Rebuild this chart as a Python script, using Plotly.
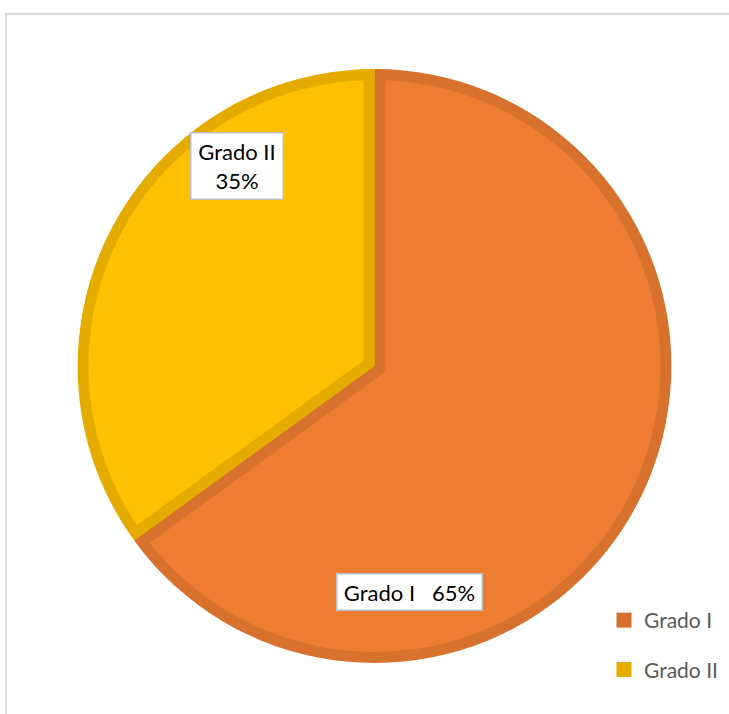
import math
import plotly.graph_objects as go

# Data
categories = ["Grado I", "Grado II"]
shares = [65, 35]

# Styling
fill_colors = ["#ED7D31", "#FFC000"]
edge_colors = ["#D8712D", "#E5AC00"]
legend_colors = ["#D6702C", "#E5AC00"]

W, H = 729, 714
CX, CY = 374.5, 366.0     # pie centre (px from top-left)
R = 297.0                 # outer radius (px)
EDGE = 11.0               # inner border thickness (px)
FONT = "Lato"


def dom(size):
    """Square domain of `size` px centred on the pie centre."""
    return dict(
        x=[(CX - size / 2) / W, (CX + size / 2) / W],
        y=[(H - CY - size / 2) / H, (H - CY + size / 2) / H],
    )


common = dict(
    labels=categories,
    values=shares,
    sort=False,
    direction="clockwise",
    rotation=0,
    textinfo="none",
    hoverinfo="skip",
    showlegend=False,
)

# shift each slice along its bisector so that its radial edges move
# EDGE/2 inward; a stroke of width EDGE then hugs the inside of the slice
total = sum(shares)
shifts = [(EDGE / 2) / math.sin(math.pi * v / total) for v in shares]
pulls = [s / R for s in shifts]
pull_size = R * (2 + 2 * max(pulls))

R_MASK = 330.0

fig = go.Figure()

# darker base disc (forms the outer border band)
fig.add_trace(go.Pie(**common, marker=dict(colors=edge_colors), domain=dom(2 * R)))
# lighter slice interiors
fig.add_trace(go.Pie(**common, marker=dict(colors=fill_colors), domain=dom(2 * (R - EDGE))))
# inner borders along the radial edges
fig.add_trace(go.Pie(
    **common,
    pull=pulls,
    marker=dict(colors=["rgba(0,0,0,0)"] * len(shares),
                line=dict(color=edge_colors, width=EDGE)),
    domain=dom(pull_size),
))
# white ring that trims anything drawn beyond the pie rim
fig.add_trace(go.Pie(
    labels=[" "], values=[1], sort=False, textinfo="none", hoverinfo="skip",
    showlegend=False, hole=R / R_MASK,
    marker=dict(colors=["#FFFFFF"], line=dict(width=0)),
    domain=dom(2 * R_MASK),
))

# legend entries
for i, (cat, col) in enumerate(zip(categories, legend_colors)):
    fig.add_trace(go.Scatter(
        x=[None], y=[None], mode="markers", name=cat,
        marker=dict(symbol="square", size=15, color=col, line=dict(width=0)),
        legendgroup=f"g{i}", hoverinfo="skip",
    ))

label_font = dict(family=FONT, size=22, color="#000000")
fig.add_annotation(
    x=236.5 / W, y=(H - 166.5) / H, xref="paper", yref="paper",
    xanchor="center", yanchor="middle",
    text=f"{categories[1]}<br>{shares[1]}%",
    showarrow=False, font=label_font, align="center",
    width=91, height=65, bgcolor="#FFFFFF",
    bordercolor="#BFBFBF", borderwidth=1.5, borderpad=0,
)
fig.add_annotation(
    x=409 / W, y=(H - 591.5) / H, xref="paper", yref="paper",
    xanchor="center", yanchor="middle",
    text=f"{categories[0]}\u00a0\u00a0\u00a0{shares[0]}%",
    showarrow=False, font=label_font, align="center",
    width=144, height=35, bgcolor="#FFFFFF",
    bordercolor="#BFBFBF", borderwidth=1.5, borderpad=0,
)

# chart-area frame
fig.add_shape(
    type="rect", xref="paper", yref="paper",
    x0=6 / W, x1=1.05, y0=-0.05, y1=(H - 14) / H,
    line=dict(color="#D9D9D9", width=2), fillcolor="rgba(0,0,0,0)",
)

fig.update_layout(
    width=W, height=H,
    margin=dict(l=0, r=0, t=0, b=0, autoexpand=False),
    paper_bgcolor="#FFFFFF", plot_bgcolor="#FFFFFF",
    xaxis=dict(visible=False), yaxis=dict(visible=False),
    legend=dict(
        x=604 / W, y=(H - 600) / H, xanchor="left", yanchor="top",
        font=dict(family=FONT, size=21, color="#595959"),
        bgcolor="rgba(0,0,0,0)", tracegroupgap=19, itemsizing="trace",
    ),
)

fig.write_html("out.html")
